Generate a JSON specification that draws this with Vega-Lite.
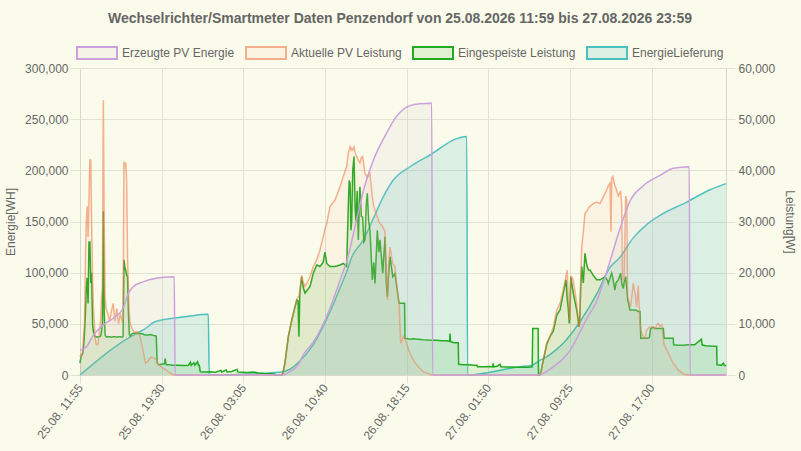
{
  "$schema": "https://vega.github.io/schema/vega-lite/v6.json",
  "width": 646,
  "height": 307,
  "autosize": {"type": "none"},
  "padding": {"left": 80, "top": 68, "right": 75, "bottom": 76},
  "background": "#fbfbeb",
  "title": {
    "text": "Wechselrichter/Smartmeter Daten Penzendorf von 25.08.2026 11:59 bis 27.08.2026 23:59",
    "font": "Liberation Sans",
    "fontSize": 14,
    "fontWeight": "bold",
    "color": "#666666",
    "anchor": "middle",
    "offset": 6,
    "dx": -3
  },
  "datasets": {
    "erz": [
      {"t": "2026-08-25T11:55", "v": 24400},
      {"t": "2026-08-25T12:30", "v": 27500},
      {"t": "2026-08-25T13:10", "v": 39000},
      {"t": "2026-08-25T14:05", "v": 49000},
      {"t": "2026-08-25T15:00", "v": 55500},
      {"t": "2026-08-25T15:55", "v": 65000},
      {"t": "2026-08-25T16:25", "v": 80000},
      {"t": "2026-08-25T16:50", "v": 86000},
      {"t": "2026-08-25T17:50", "v": 91200},
      {"t": "2026-08-25T19:00", "v": 94500},
      {"t": "2026-08-25T20:00", "v": 95800},
      {"t": "2026-08-25T20:40", "v": 96000},
      {"t": "2026-08-25T20:45", "v": 0},
      {"t": "2026-08-26T06:45", "v": 0},
      {"t": "2026-08-26T07:17", "v": 2500},
      {"t": "2026-08-26T08:10", "v": 10000},
      {"t": "2026-08-26T08:40", "v": 20000},
      {"t": "2026-08-26T09:35", "v": 32000},
      {"t": "2026-08-26T11:10", "v": 66000},
      {"t": "2026-08-26T12:05", "v": 93000},
      {"t": "2026-08-26T12:41", "v": 111000},
      {"t": "2026-08-26T13:37", "v": 152000},
      {"t": "2026-08-26T14:14", "v": 180000},
      {"t": "2026-08-26T15:10", "v": 210000},
      {"t": "2026-08-26T16:10", "v": 232000},
      {"t": "2026-08-26T17:20", "v": 253000},
      {"t": "2026-08-26T18:30", "v": 263000},
      {"t": "2026-08-26T19:30", "v": 265000},
      {"t": "2026-08-26T20:35", "v": 265500},
      {"t": "2026-08-26T20:40", "v": 0},
      {"t": "2026-08-27T06:30", "v": 0},
      {"t": "2026-08-27T07:00", "v": 2000},
      {"t": "2026-08-27T07:53", "v": 8000},
      {"t": "2026-08-27T08:48", "v": 16000},
      {"t": "2026-08-27T09:26", "v": 24000},
      {"t": "2026-08-27T10:21", "v": 42000},
      {"t": "2026-08-27T10:59", "v": 55000},
      {"t": "2026-08-27T11:54", "v": 72000},
      {"t": "2026-08-27T13:08", "v": 111000},
      {"t": "2026-08-27T14:04", "v": 143000},
      {"t": "2026-08-27T15:00", "v": 170000},
      {"t": "2026-08-27T16:14", "v": 185000},
      {"t": "2026-08-27T17:47", "v": 195000},
      {"t": "2026-08-27T19:01", "v": 202000},
      {"t": "2026-08-27T20:30", "v": 203500},
      {"t": "2026-08-27T20:35", "v": 0},
      {"t": "2026-08-27T23:55", "v": 0}
    ],
    "lief": [
      {"t": "2026-08-25T11:55", "v": 0},
      {"t": "2026-08-25T17:10", "v": 40700},
      {"t": "2026-08-25T17:48", "v": 44000},
      {"t": "2026-08-25T18:53", "v": 52000},
      {"t": "2026-08-25T20:35", "v": 55400},
      {"t": "2026-08-25T22:00", "v": 57500},
      {"t": "2026-08-25T23:50", "v": 59300},
      {"t": "2026-08-25T23:55", "v": 0},
      {"t": "2026-08-26T06:40", "v": 3000},
      {"t": "2026-08-26T07:17", "v": 5000},
      {"t": "2026-08-26T08:10", "v": 12000},
      {"t": "2026-08-26T09:36", "v": 30000},
      {"t": "2026-08-26T11:09", "v": 62000},
      {"t": "2026-08-26T12:04", "v": 85000},
      {"t": "2026-08-26T12:41", "v": 101000},
      {"t": "2026-08-26T13:09", "v": 115000},
      {"t": "2026-08-26T14:14", "v": 132000},
      {"t": "2026-08-26T15:10", "v": 153000},
      {"t": "2026-08-26T16:05", "v": 174000},
      {"t": "2026-08-26T17:01", "v": 190500},
      {"t": "2026-08-26T18:34", "v": 203500},
      {"t": "2026-08-26T20:26", "v": 215000},
      {"t": "2026-08-26T22:54", "v": 231000},
      {"t": "2026-08-26T23:50", "v": 233000},
      {"t": "2026-08-26T23:55", "v": 0},
      {"t": "2026-08-27T04:47", "v": 8100},
      {"t": "2026-08-27T05:50", "v": 9300},
      {"t": "2026-08-27T06:30", "v": 13500},
      {"t": "2026-08-27T07:34", "v": 20000},
      {"t": "2026-08-27T08:48", "v": 31000},
      {"t": "2026-08-27T10:21", "v": 52000},
      {"t": "2026-08-27T11:54", "v": 79000},
      {"t": "2026-08-27T13:08", "v": 105000},
      {"t": "2026-08-27T14:04", "v": 115000},
      {"t": "2026-08-27T15:18", "v": 134000},
      {"t": "2026-08-27T16:33", "v": 147000},
      {"t": "2026-08-27T17:47", "v": 156000},
      {"t": "2026-08-27T20:16", "v": 169000},
      {"t": "2026-08-27T22:26", "v": 181000},
      {"t": "2026-08-27T23:55", "v": 187000}
    ],
    "leistung": [
      {"t": "2026-08-25T11:55", "o": 3500, "g": 2300},
      {"t": "2026-08-25T12:00", "o": 4000, "g": 3500},
      {"t": "2026-08-25T12:05", "o": 3800, "g": 3900},
      {"t": "2026-08-25T12:10", "o": 5000, "g": 4200},
      {"t": "2026-08-25T12:15", "o": 8000, "g": 5500},
      {"t": "2026-08-25T12:20", "o": 10000, "g": 8100},
      {"t": "2026-08-25T12:25", "o": 22000, "g": 12000},
      {"t": "2026-08-25T12:30", "o": 30000, "g": 17000},
      {"t": "2026-08-25T12:35", "o": 33000, "g": 19000},
      {"t": "2026-08-25T12:40", "o": 27000, "g": 14000},
      {"t": "2026-08-25T12:45", "o": 34000, "g": 26000},
      {"t": "2026-08-25T12:50", "o": 42000, "g": 26000},
      {"t": "2026-08-25T12:55", "o": 42000, "g": 18000},
      {"t": "2026-08-25T13:00", "o": 29000, "g": 20000},
      {"t": "2026-08-25T13:05", "o": 19000, "g": 10000},
      {"t": "2026-08-25T13:10", "o": 13000, "g": 8500},
      {"t": "2026-08-25T13:15", "o": 10000, "g": 7800},
      {"t": "2026-08-25T13:20", "o": 7000, "g": 7500},
      {"t": "2026-08-25T13:25", "o": 6000, "g": 7500},
      {"t": "2026-08-25T13:30", "o": 5900, "g": 7400},
      {"t": "2026-08-25T13:35", "o": 6000, "g": 7500},
      {"t": "2026-08-25T13:40", "o": 7500, "g": 7500},
      {"t": "2026-08-25T13:45", "o": 9000, "g": 7500},
      {"t": "2026-08-25T13:50", "o": 11000, "g": 7600},
      {"t": "2026-08-25T13:55", "o": 15000, "g": 8500},
      {"t": "2026-08-25T14:00", "o": 17000, "g": 10000},
      {"t": "2026-08-25T14:05", "o": 53700, "g": 32000},
      {"t": "2026-08-25T14:10", "o": 30000, "g": 12000},
      {"t": "2026-08-25T14:15", "o": 15000, "g": 7800},
      {"t": "2026-08-25T14:20", "o": 13000, "g": 7500},
      {"t": "2026-08-25T14:25", "o": 12500, "g": 7400},
      {"t": "2026-08-25T14:30", "o": 12000, "g": 7500},
      {"t": "2026-08-25T14:40", "o": 10500, "g": 7500},
      {"t": "2026-08-25T14:50", "o": 12500, "g": 7400},
      {"t": "2026-08-25T15:00", "o": 14000, "g": 7500},
      {"t": "2026-08-25T15:10", "o": 10500, "g": 7500},
      {"t": "2026-08-25T15:20", "o": 13000, "g": 7400},
      {"t": "2026-08-25T15:30", "o": 10000, "g": 7500},
      {"t": "2026-08-25T15:40", "o": 12000, "g": 7500},
      {"t": "2026-08-25T15:50", "o": 10500, "g": 7400},
      {"t": "2026-08-25T15:55", "o": 11000, "g": 7500},
      {"t": "2026-08-25T16:00", "o": 41700, "g": 22500},
      {"t": "2026-08-25T16:05", "o": 41000, "g": 21000},
      {"t": "2026-08-25T16:10", "o": 41500, "g": 20500},
      {"t": "2026-08-25T16:15", "o": 38000, "g": 19500},
      {"t": "2026-08-25T16:20", "o": 23000, "g": 19200},
      {"t": "2026-08-25T16:25", "o": 16000, "g": 12000},
      {"t": "2026-08-25T16:30", "o": 12000, "g": 8000},
      {"t": "2026-08-25T16:35", "o": 10000, "g": 7600},
      {"t": "2026-08-25T16:45", "o": 9000, "g": 8100},
      {"t": "2026-08-25T17:00", "o": 8300, "g": 8200},
      {"t": "2026-08-25T17:15", "o": 8500, "g": 8100},
      {"t": "2026-08-25T17:30", "o": 7500, "g": 8100},
      {"t": "2026-08-25T17:45", "o": 5000, "g": 8000},
      {"t": "2026-08-25T18:00", "o": 2300, "g": 7800},
      {"t": "2026-08-25T18:15", "o": 2800, "g": 7800},
      {"t": "2026-08-25T18:30", "o": 3500, "g": 7900},
      {"t": "2026-08-25T18:45", "o": 3400, "g": 7700},
      {"t": "2026-08-25T19:00", "o": 3000, "g": 7600},
      {"t": "2026-08-25T19:05", "o": 2500, "g": 2300},
      {"t": "2026-08-25T19:15", "o": 2000, "g": 2000},
      {"t": "2026-08-25T19:30", "o": 1500, "g": 2100},
      {"t": "2026-08-25T19:45", "o": 1200, "g": 2200},
      {"t": "2026-08-25T19:50", "o": 1100, "g": 3200},
      {"t": "2026-08-25T19:55", "o": 1000, "g": 2000},
      {"t": "2026-08-25T20:15", "o": 400, "g": 2000},
      {"t": "2026-08-25T20:30", "o": 100, "g": 1900},
      {"t": "2026-08-25T20:45", "o": 0, "g": 1900},
      {"t": "2026-08-25T21:00", "o": 0, "g": 1900},
      {"t": "2026-08-25T21:30", "o": 0, "g": 1850},
      {"t": "2026-08-25T22:00", "o": 0, "g": 1900},
      {"t": "2026-08-25T22:10", "o": 0, "g": 2500},
      {"t": "2026-08-25T22:15", "o": 0, "g": 1900},
      {"t": "2026-08-25T22:30", "o": 0, "g": 2400},
      {"t": "2026-08-25T22:35", "o": 0, "g": 1900},
      {"t": "2026-08-25T22:50", "o": 0, "g": 2600},
      {"t": "2026-08-25T22:55", "o": 0, "g": 1900},
      {"t": "2026-08-25T23:00", "o": 0, "g": 1900},
      {"t": "2026-08-25T23:05", "o": 0, "g": 650},
      {"t": "2026-08-25T23:30", "o": 0, "g": 600},
      {"t": "2026-08-26T00:00", "o": 0, "g": 650},
      {"t": "2026-08-26T00:30", "o": 0, "g": 550},
      {"t": "2026-08-26T01:00", "o": 0, "g": 900},
      {"t": "2026-08-26T01:05", "o": 0, "g": 600},
      {"t": "2026-08-26T01:30", "o": 0, "g": 1000},
      {"t": "2026-08-26T01:35", "o": 0, "g": 600},
      {"t": "2026-08-26T02:00", "o": 0, "g": 700},
      {"t": "2026-08-26T02:30", "o": 0, "g": 1100},
      {"t": "2026-08-26T02:35", "o": 0, "g": 600},
      {"t": "2026-08-26T03:00", "o": 0, "g": 550},
      {"t": "2026-08-26T03:30", "o": 0, "g": 500},
      {"t": "2026-08-26T04:00", "o": 0, "g": 600},
      {"t": "2026-08-26T04:30", "o": 0, "g": 400},
      {"t": "2026-08-26T05:00", "o": 0, "g": 300},
      {"t": "2026-08-26T05:30", "o": 0, "g": 250},
      {"t": "2026-08-26T06:00", "o": 0, "g": 200},
      {"t": "2026-08-26T06:05", "o": 0, "g": 0},
      {"t": "2026-08-26T06:40", "o": 0, "g": 0},
      {"t": "2026-08-26T06:45", "o": 300, "g": 300},
      {"t": "2026-08-26T06:57", "o": 2300, "g": 2300},
      {"t": "2026-08-26T07:16", "o": 7500, "g": 7500},
      {"t": "2026-08-26T07:35", "o": 10700, "g": 10700},
      {"t": "2026-08-26T07:53", "o": 13300, "g": 13300},
      {"t": "2026-08-26T08:03", "o": 14700, "g": 14700},
      {"t": "2026-08-26T08:10", "o": 15200, "g": 14500},
      {"t": "2026-08-26T08:15", "o": 15500, "g": 7500},
      {"t": "2026-08-26T08:20", "o": 16500, "g": 16000},
      {"t": "2026-08-26T08:30", "o": 19500, "g": 19200},
      {"t": "2026-08-26T08:40", "o": 18000, "g": 17000},
      {"t": "2026-08-26T08:49", "o": 17300, "g": 16000},
      {"t": "2026-08-26T09:00", "o": 18000, "g": 16500},
      {"t": "2026-08-26T09:17", "o": 19200, "g": 17300},
      {"t": "2026-08-26T09:35", "o": 21200, "g": 19900},
      {"t": "2026-08-26T09:54", "o": 22500, "g": 21500},
      {"t": "2026-08-26T10:12", "o": 24400, "g": 21200},
      {"t": "2026-08-26T10:30", "o": 27000, "g": 22000},
      {"t": "2026-08-26T10:40", "o": 28500, "g": 24000},
      {"t": "2026-08-26T10:50", "o": 29600, "g": 21800},
      {"t": "2026-08-26T11:08", "o": 32900, "g": 21200},
      {"t": "2026-08-26T11:36", "o": 34200, "g": 21200},
      {"t": "2026-08-26T12:04", "o": 36800, "g": 21500},
      {"t": "2026-08-26T12:22", "o": 38800, "g": 21800},
      {"t": "2026-08-26T12:41", "o": 40700, "g": 21200},
      {"t": "2026-08-26T12:50", "o": 43300, "g": 32900},
      {"t": "2026-08-26T12:55", "o": 44000, "g": 38000},
      {"t": "2026-08-26T13:00", "o": 44600, "g": 37500},
      {"t": "2026-08-26T13:05", "o": 44000, "g": 28300},
      {"t": "2026-08-26T13:09", "o": 44300, "g": 30000},
      {"t": "2026-08-26T13:15", "o": 44000, "g": 40000},
      {"t": "2026-08-26T13:22", "o": 44600, "g": 42700},
      {"t": "2026-08-26T13:28", "o": 43500, "g": 33000},
      {"t": "2026-08-26T13:33", "o": 43000, "g": 30000},
      {"t": "2026-08-26T13:40", "o": 42500, "g": 36000},
      {"t": "2026-08-26T13:46", "o": 42000, "g": 26400},
      {"t": "2026-08-26T13:55", "o": 41500, "g": 36800},
      {"t": "2026-08-26T14:03", "o": 42500, "g": 31000},
      {"t": "2026-08-26T14:10", "o": 42700, "g": 30900},
      {"t": "2026-08-26T14:17", "o": 41000, "g": 26000},
      {"t": "2026-08-26T14:23", "o": 39400, "g": 26400},
      {"t": "2026-08-26T14:30", "o": 39000, "g": 33000},
      {"t": "2026-08-26T14:36", "o": 38500, "g": 35500},
      {"t": "2026-08-26T14:44", "o": 39000, "g": 30000},
      {"t": "2026-08-26T14:51", "o": 39400, "g": 28300},
      {"t": "2026-08-26T15:04", "o": 34800, "g": 18600},
      {"t": "2026-08-26T15:12", "o": 33000, "g": 22000},
      {"t": "2026-08-26T15:19", "o": 32200, "g": 17900},
      {"t": "2026-08-26T15:32", "o": 30900, "g": 28300},
      {"t": "2026-08-26T15:40", "o": 30000, "g": 24000},
      {"t": "2026-08-26T15:47", "o": 29600, "g": 26400},
      {"t": "2026-08-26T16:02", "o": 29000, "g": 19900},
      {"t": "2026-08-26T16:15", "o": 28000, "g": 27000},
      {"t": "2026-08-26T16:22", "o": 20000, "g": 18000},
      {"t": "2026-08-26T16:28", "o": 14700, "g": 15300},
      {"t": "2026-08-26T16:35", "o": 22000, "g": 20000},
      {"t": "2026-08-26T16:43", "o": 25000, "g": 23100},
      {"t": "2026-08-26T16:58", "o": 21800, "g": 19200},
      {"t": "2026-08-26T17:10", "o": 21200, "g": 19800},
      {"t": "2026-08-26T17:23", "o": 16600, "g": 16600},
      {"t": "2026-08-26T17:33", "o": 14000, "g": 14000},
      {"t": "2026-08-26T17:42", "o": 6200, "g": 14000},
      {"t": "2026-08-26T17:57", "o": 7500, "g": 14000},
      {"t": "2026-08-26T18:04", "o": 7000, "g": 14000},
      {"t": "2026-08-26T18:06", "o": 7000, "g": 7200},
      {"t": "2026-08-26T18:34", "o": 4200, "g": 7000},
      {"t": "2026-08-26T18:52", "o": 2900, "g": 7100},
      {"t": "2026-08-26T19:20", "o": 1600, "g": 7000},
      {"t": "2026-08-26T19:48", "o": 650, "g": 6900},
      {"t": "2026-08-26T20:35", "o": 0, "g": 6800},
      {"t": "2026-08-26T21:00", "o": 0, "g": 6800},
      {"t": "2026-08-26T21:30", "o": 0, "g": 6700},
      {"t": "2026-08-26T22:00", "o": 0, "g": 6700},
      {"t": "2026-08-26T22:15", "o": 0, "g": 6600},
      {"t": "2026-08-26T22:17", "o": 0, "g": 8100},
      {"t": "2026-08-26T22:20", "o": 0, "g": 6500},
      {"t": "2026-08-26T22:40", "o": 0, "g": 6300},
      {"t": "2026-08-26T23:03", "o": 0, "g": 6300},
      {"t": "2026-08-26T23:05", "o": 0, "g": 2100},
      {"t": "2026-08-26T23:30", "o": 0, "g": 2000},
      {"t": "2026-08-27T00:00", "o": 0, "g": 2000},
      {"t": "2026-08-27T00:30", "o": 0, "g": 1900},
      {"t": "2026-08-27T00:47", "o": 0, "g": 1900},
      {"t": "2026-08-27T00:50", "o": 0, "g": 1600},
      {"t": "2026-08-27T01:30", "o": 0, "g": 1600},
      {"t": "2026-08-27T02:00", "o": 0, "g": 1650},
      {"t": "2026-08-27T02:15", "o": 0, "g": 1600},
      {"t": "2026-08-27T02:17", "o": 0, "g": 2300},
      {"t": "2026-08-27T02:20", "o": 0, "g": 1600},
      {"t": "2026-08-27T02:40", "o": 0, "g": 1700},
      {"t": "2026-08-27T02:56", "o": 0, "g": 2100},
      {"t": "2026-08-27T03:00", "o": 0, "g": 1600},
      {"t": "2026-08-27T03:30", "o": 0, "g": 1550},
      {"t": "2026-08-27T04:00", "o": 0, "g": 1550},
      {"t": "2026-08-27T04:30", "o": 0, "g": 1500},
      {"t": "2026-08-27T05:00", "o": 0, "g": 1500},
      {"t": "2026-08-27T05:36", "o": 0, "g": 1500},
      {"t": "2026-08-27T05:55", "o": 0, "g": 1600},
      {"t": "2026-08-27T05:58", "o": 0, "g": 9100},
      {"t": "2026-08-27T06:28", "o": 0, "g": 9100},
      {"t": "2026-08-27T06:30", "o": 0, "g": 0},
      {"t": "2026-08-27T06:38", "o": 0, "g": 0},
      {"t": "2026-08-27T06:45", "o": 800, "g": 800},
      {"t": "2026-08-27T06:57", "o": 2900, "g": 2900},
      {"t": "2026-08-27T07:16", "o": 6200, "g": 6000},
      {"t": "2026-08-27T07:34", "o": 7500, "g": 7500},
      {"t": "2026-08-27T07:53", "o": 9400, "g": 8600},
      {"t": "2026-08-27T08:12", "o": 12700, "g": 11700},
      {"t": "2026-08-27T08:30", "o": 14000, "g": 12700},
      {"t": "2026-08-27T08:48", "o": 16600, "g": 16000},
      {"t": "2026-08-27T09:03", "o": 19200, "g": 18600},
      {"t": "2026-08-27T09:10", "o": 20500, "g": 15000},
      {"t": "2026-08-27T09:16", "o": 15000, "g": 13000},
      {"t": "2026-08-27T09:22", "o": 12000, "g": 10100},
      {"t": "2026-08-27T09:26", "o": 10700, "g": 14000},
      {"t": "2026-08-27T09:30", "o": 19200, "g": 19200},
      {"t": "2026-08-27T09:35", "o": 19200, "g": 18000},
      {"t": "2026-08-27T09:44", "o": 18500, "g": 16000},
      {"t": "2026-08-27T10:03", "o": 14000, "g": 12700},
      {"t": "2026-08-27T10:16", "o": 9400, "g": 9400},
      {"t": "2026-08-27T10:21", "o": 10000, "g": 12000},
      {"t": "2026-08-27T10:25", "o": 18000, "g": 17000},
      {"t": "2026-08-27T10:31", "o": 25000, "g": 21200},
      {"t": "2026-08-27T10:40", "o": 28000, "g": 18000},
      {"t": "2026-08-27T10:49", "o": 31600, "g": 23800},
      {"t": "2026-08-27T10:59", "o": 32000, "g": 21500},
      {"t": "2026-08-27T11:08", "o": 32600, "g": 20500},
      {"t": "2026-08-27T11:17", "o": 33000, "g": 20500},
      {"t": "2026-08-27T11:35", "o": 33500, "g": 19500},
      {"t": "2026-08-27T11:54", "o": 33800, "g": 18600},
      {"t": "2026-08-27T12:13", "o": 33500, "g": 18600},
      {"t": "2026-08-27T12:31", "o": 34800, "g": 19000},
      {"t": "2026-08-27T12:41", "o": 35500, "g": 19200},
      {"t": "2026-08-27T12:54", "o": 36500, "g": 18500},
      {"t": "2026-08-27T12:59", "o": 37000, "g": 17900},
      {"t": "2026-08-27T13:09", "o": 37500, "g": 19000},
      {"t": "2026-08-27T13:14", "o": 28000, "g": 19500},
      {"t": "2026-08-27T13:18", "o": 38400, "g": 19900},
      {"t": "2026-08-27T13:24", "o": 38800, "g": 19000},
      {"t": "2026-08-27T13:36", "o": 37000, "g": 16600},
      {"t": "2026-08-27T13:42", "o": 36500, "g": 18000},
      {"t": "2026-08-27T13:55", "o": 35000, "g": 18600},
      {"t": "2026-08-27T14:08", "o": 36000, "g": 19900},
      {"t": "2026-08-27T14:14", "o": 33000, "g": 18000},
      {"t": "2026-08-27T14:18", "o": 19000, "g": 17500},
      {"t": "2026-08-27T14:23", "o": 18600, "g": 16900},
      {"t": "2026-08-27T14:27", "o": 19000, "g": 18000},
      {"t": "2026-08-27T14:36", "o": 35000, "g": 19200},
      {"t": "2026-08-27T14:42", "o": 34000, "g": 17000},
      {"t": "2026-08-27T14:47", "o": 15300, "g": 14700},
      {"t": "2026-08-27T15:00", "o": 13500, "g": 12700},
      {"t": "2026-08-27T15:04", "o": 13500, "g": 12700},
      {"t": "2026-08-27T15:18", "o": 17900, "g": 12700},
      {"t": "2026-08-27T15:28", "o": 16000, "g": 12700},
      {"t": "2026-08-27T15:37", "o": 13300, "g": 12600},
      {"t": "2026-08-27T15:46", "o": 17500, "g": 12400},
      {"t": "2026-08-27T15:56", "o": 10100, "g": 12400},
      {"t": "2026-08-27T16:00", "o": 8800, "g": 7200},
      {"t": "2026-08-27T16:14", "o": 7500, "g": 7200},
      {"t": "2026-08-27T16:24", "o": 7200, "g": 7200},
      {"t": "2026-08-27T16:33", "o": 8800, "g": 7200},
      {"t": "2026-08-27T16:48", "o": 9400, "g": 7300},
      {"t": "2026-08-27T16:55", "o": 9400, "g": 9100},
      {"t": "2026-08-27T17:10", "o": 9400, "g": 9300},
      {"t": "2026-08-27T17:19", "o": 9000, "g": 9100},
      {"t": "2026-08-27T17:29", "o": 9800, "g": 9100},
      {"t": "2026-08-27T17:38", "o": 10100, "g": 9100},
      {"t": "2026-08-27T17:47", "o": 9500, "g": 9100},
      {"t": "2026-08-27T17:57", "o": 9800, "g": 9100},
      {"t": "2026-08-27T18:06", "o": 6800, "g": 9100},
      {"t": "2026-08-27T18:10", "o": 6000, "g": 7200},
      {"t": "2026-08-27T18:25", "o": 4900, "g": 7200},
      {"t": "2026-08-27T18:43", "o": 3600, "g": 7200},
      {"t": "2026-08-27T19:01", "o": 2300, "g": 7200},
      {"t": "2026-08-27T19:03", "o": 2200, "g": 5900},
      {"t": "2026-08-27T19:29", "o": 1000, "g": 5800},
      {"t": "2026-08-27T19:57", "o": 200, "g": 5800},
      {"t": "2026-08-27T20:25", "o": 0, "g": 5900},
      {"t": "2026-08-27T21:00", "o": 0, "g": 5900},
      {"t": "2026-08-27T21:38", "o": 0, "g": 7000},
      {"t": "2026-08-27T21:42", "o": 0, "g": 5900},
      {"t": "2026-08-27T22:00", "o": 0, "g": 5700},
      {"t": "2026-08-27T23:03", "o": 0, "g": 5600},
      {"t": "2026-08-27T23:05", "o": 0, "g": 2000},
      {"t": "2026-08-27T23:30", "o": 0, "g": 1900},
      {"t": "2026-08-27T23:40", "o": 0, "g": 2300},
      {"t": "2026-08-27T23:45", "o": 0, "g": 1900},
      {"t": "2026-08-27T23:55", "o": 0, "g": 1800}
    ]
  },
  "encoding": {
    "x": {
      "field": "t",
      "type": "temporal",
      "title": null,
      "scale": {
        "domain": [
          {"year": 2026, "month": 8, "date": 25, "hours": 11, "minutes": 55},
          {"year": 2026, "month": 8, "date": 27, "hours": 23, "minutes": 55}
        ],
        "nice": false
      },
      "axis": {
        "values": [
          {"year": 2026, "month": 8, "date": 25, "hours": 11, "minutes": 55},
          {"year": 2026, "month": 8, "date": 25, "hours": 19, "minutes": 30},
          {"year": 2026, "month": 8, "date": 26, "hours": 3, "minutes": 5},
          {"year": 2026, "month": 8, "date": 26, "hours": 10, "minutes": 40},
          {"year": 2026, "month": 8, "date": 26, "hours": 18, "minutes": 15},
          {"year": 2026, "month": 8, "date": 27, "hours": 1, "minutes": 50},
          {"year": 2026, "month": 8, "date": 27, "hours": 9, "minutes": 25},
          {"year": 2026, "month": 8, "date": 27, "hours": 17, "minutes": 0}
        ],
        "format": "%d.%m. %H:%M",
        "labelAngle": -52,
        "labelAlign": "right",
        "labelBaseline": "middle",
        "labelFlush": false,
        "labelOverlap": false,
        "grid": true,
        "tickSize": 8,
        "labelPadding": 2
      }
    }
  },
  "layer": [
    {
      "data": {"name": "lief"},
      "encoding": {
        "y": {"field": "v", "type": "quantitative", "scale": {"domain": [0, 300000], "nice": false}, "axis": null}
      },
      "layer": [
        {
          "mark": {"type": "area", "interpolate": "monotone", "opacity": 1},
          "encoding": {
            "fill": {
              "datum": "EnergieLieferung",
              "type": "nominal",
              "scale": {
                "domain": ["Erzeugte PV Energie", "Aktuelle PV Leistung", "Eingespeiste Leistung", "EnergieLieferung"],
                "range": ["rgba(201,203,207,0.15)", "rgba(240,150,120,0.08)", "rgba(34,170,34,0.12)", "rgba(75,192,192,0.18)"]
              },
              "legend": {
                "title": null,
                "orient": "none",
                "legendX": -4,
                "legendY": -36,
                "direction": "horizontal",
                "symbolType": "M-1,-0.3H1V0.3H-1Z",
                "symbolSize": 1600,
                "symbolStrokeWidth": 2,
                "labelOffset": 4,
                "columnPadding": 7,
                "labelFont": "Liberation Sans",
                "labelFontSize": 12,
                "labelColor": "#666666"
              }
            }
          }
        },
        {
          "mark": {"type": "line", "interpolate": "monotone", "strokeWidth": 1.5},
          "encoding": {
            "stroke": {
              "datum": "EnergieLieferung",
              "type": "nominal",
              "scale": {
                "domain": ["Erzeugte PV Energie", "Aktuelle PV Leistung", "Eingespeiste Leistung", "EnergieLieferung"],
                "range": ["#cca0dc", "rgba(240,128,80,0.6)", "#22aa22", "#4bc0c0"]
              },
              "legend": {
                "title": null,
                "orient": "none",
                "legendX": -4,
                "legendY": -36,
                "direction": "horizontal",
                "symbolType": "M-1,-0.3H1V0.3H-1Z",
                "symbolSize": 1600,
                "symbolStrokeWidth": 2,
                "labelOffset": 4,
                "columnPadding": 7,
                "labelFont": "Liberation Sans",
                "labelFontSize": 12,
                "labelColor": "#666666"
              }
            }
          }
        }
      ]
    },
    {
      "data": {"name": "leistung"},
      "encoding": {
        "y": {"field": "g", "type": "quantitative", "scale": {"domain": [0, 60000], "nice": false}, "axis": null}
      },
      "layer": [
        {
          "mark": {"type": "area", "opacity": 1},
          "encoding": {
            "fill": {
              "datum": "Eingespeiste Leistung",
              "type": "nominal",
              "scale": {
                "domain": ["Erzeugte PV Energie", "Aktuelle PV Leistung", "Eingespeiste Leistung", "EnergieLieferung"],
                "range": ["rgba(201,203,207,0.15)", "rgba(240,150,120,0.08)", "rgba(34,170,34,0.12)", "rgba(75,192,192,0.18)"]
              }
            }
          }
        },
        {
          "mark": {"type": "line", "strokeWidth": 1.5},
          "encoding": {
            "stroke": {
              "datum": "Eingespeiste Leistung",
              "type": "nominal",
              "scale": {
                "domain": ["Erzeugte PV Energie", "Aktuelle PV Leistung", "Eingespeiste Leistung", "EnergieLieferung"],
                "range": ["#cca0dc", "rgba(240,128,80,0.6)", "#22aa22", "#4bc0c0"]
              }
            }
          }
        }
      ]
    },
    {
      "data": {"name": "leistung"},
      "encoding": {
        "y": {
          "field": "o",
          "type": "quantitative",
          "scale": {"domain": [0, 60000], "nice": false},
          "axis": {
            "orient": "right",
            "title": "Leistung[W]",
            "values": [0, 10000, 20000, 30000, 40000, 50000, 60000],
            "format": ",.0f",
            "grid": false,
            "tickSize": 9,
            "labelPadding": 3,
            "titlePadding": 8
          }
        }
      },
      "layer": [
        {
          "mark": {"type": "area", "opacity": 1},
          "encoding": {
            "fill": {
              "datum": "Aktuelle PV Leistung",
              "type": "nominal",
              "scale": {
                "domain": ["Erzeugte PV Energie", "Aktuelle PV Leistung", "Eingespeiste Leistung", "EnergieLieferung"],
                "range": ["rgba(201,203,207,0.15)", "rgba(240,150,120,0.08)", "rgba(34,170,34,0.12)", "rgba(75,192,192,0.18)"]
              }
            }
          }
        },
        {
          "mark": {"type": "line", "strokeWidth": 1.5},
          "encoding": {
            "stroke": {
              "datum": "Aktuelle PV Leistung",
              "type": "nominal",
              "scale": {
                "domain": ["Erzeugte PV Energie", "Aktuelle PV Leistung", "Eingespeiste Leistung", "EnergieLieferung"],
                "range": ["#cca0dc", "rgba(240,128,80,0.6)", "#22aa22", "#4bc0c0"]
              }
            }
          }
        }
      ]
    },
    {
      "data": {"name": "erz"},
      "encoding": {
        "y": {
          "field": "v",
          "type": "quantitative",
          "scale": {"domain": [0, 300000], "nice": false},
          "axis": {
            "orient": "left",
            "title": "Energie[WH]",
            "values": [0, 50000, 100000, 150000, 200000, 250000, 300000],
            "format": ",.0f",
            "grid": true,
            "tickSize": 10,
            "labelPadding": 2,
            "titlePadding": 7
          }
        }
      },
      "layer": [
        {
          "mark": {"type": "area", "interpolate": "monotone", "opacity": 1},
          "encoding": {
            "fill": {
              "datum": "Erzeugte PV Energie",
              "type": "nominal",
              "scale": {
                "domain": ["Erzeugte PV Energie", "Aktuelle PV Leistung", "Eingespeiste Leistung", "EnergieLieferung"],
                "range": ["rgba(201,203,207,0.15)", "rgba(240,150,120,0.08)", "rgba(34,170,34,0.12)", "rgba(75,192,192,0.18)"]
              }
            }
          }
        },
        {
          "mark": {"type": "line", "interpolate": "monotone", "strokeWidth": 1.5},
          "encoding": {
            "stroke": {
              "datum": "Erzeugte PV Energie",
              "type": "nominal",
              "scale": {
                "domain": ["Erzeugte PV Energie", "Aktuelle PV Leistung", "Eingespeiste Leistung", "EnergieLieferung"],
                "range": ["#cca0dc", "rgba(240,128,80,0.6)", "#22aa22", "#4bc0c0"]
              }
            }
          }
        }
      ]
    }
  ],
  "resolve": {"scale": {"y": "independent"}, "axis": {"y": "independent"}},
  "config": {
    "view": {"stroke": null},
    "axis": {
      "labelFont": "Liberation Sans",
      "labelFontSize": 12,
      "labelColor": "#666666",
      "titleFont": "Liberation Sans",
      "titleFontSize": 12,
      "titleFontWeight": "normal",
      "titleColor": "#666666",
      "gridColor": "#e1e1d4",
      "tickColor": "#e1e1d4",
      "domainColor": "#d8d8ca"
    }
  }
}
